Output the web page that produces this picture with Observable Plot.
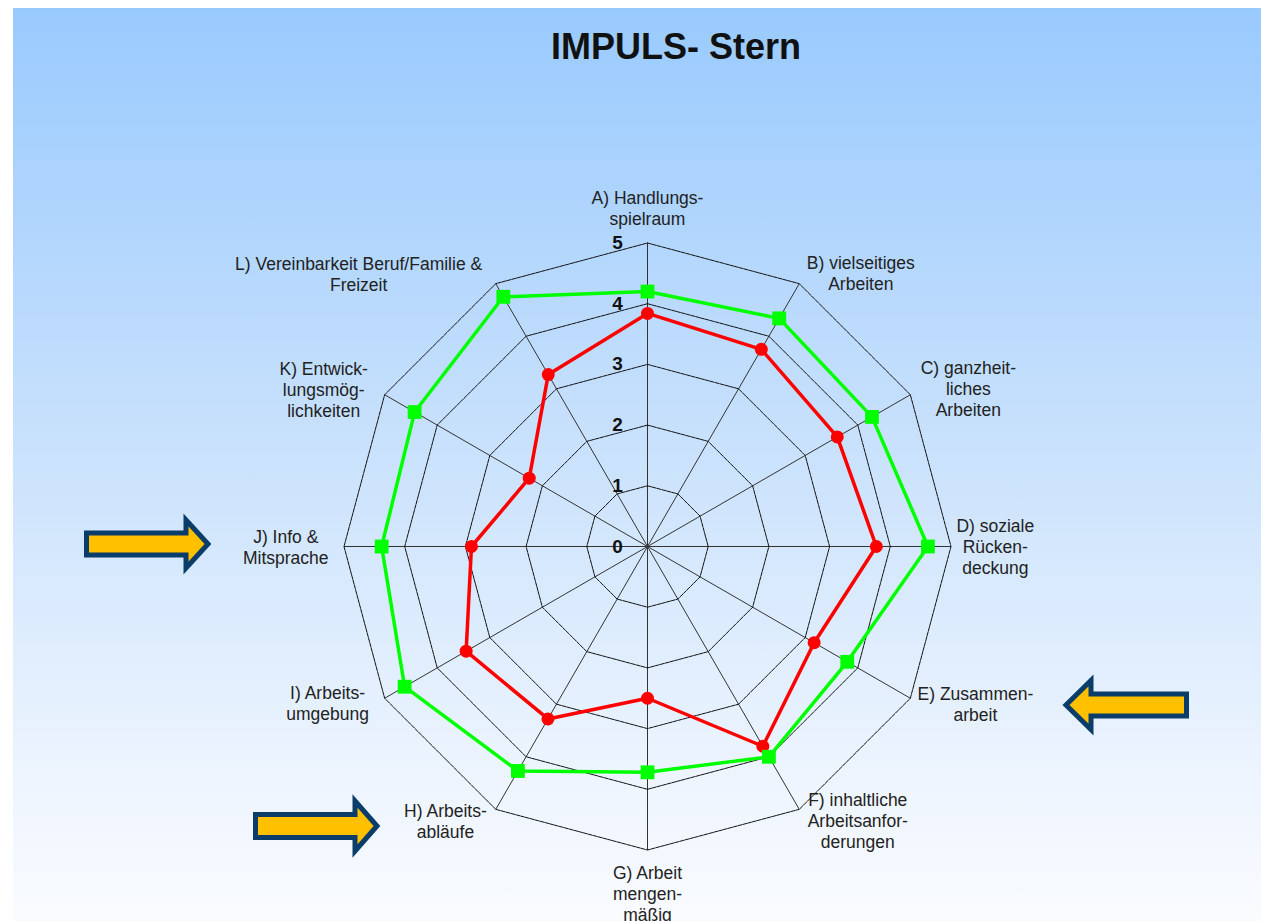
<!DOCTYPE html>
<html>
<head>
<meta charset="utf-8">
<script src="https://cdn.jsdelivr.net/npm/d3@7"></script>
<script src="https://cdn.jsdelivr.net/npm/@observablehq/plot@0.6"></script>
<style>
  html, body { margin: 0; padding: 0; background: #ffffff; }
  #page { position: relative; width: 1261px; height: 921px; overflow: hidden; background: #ffffff; }
  #bg { position: absolute; left: 13px; top: 8px; width: 1248px; height: 913px;
        background: linear-gradient(to bottom, #99cafe 0%, #c6e0fc 45%, #eef5fe 85%, #f9fbff 100%); }
  #title { position: absolute; left: 0; width: 1352px; top: 26px; text-align: center;
           font-family: "Liberation Sans", Arial, sans-serif; font-weight: bold; font-size: 36px; color: #111; }
  #chart { position: absolute; left: 0; top: 0; }
  #arrows { position: absolute; left: 0; top: 0; }
</style>
</head>
<body>
<div id="page">
  <div id="bg"></div>
  <div id="title">IMPULS- Stern</div>
  <div id="chart"></div>
  <svg id="arrows" width="1261" height="921"></svg>
</div>
<script>
// ---- data ----
const categories = [
  "A) Handlungs-\nspielraum",
  "B) vielseitiges\nArbeiten",
  "C) ganzheit-\nliches\nArbeiten",
  "D) soziale\nRücken-\ndeckung",
  "E) Zusammen-\narbeit",
  "F) inhaltliche\nArbeitsanfor-\nderungen",
  "G) Arbeit\nmengen-\nmäßig",
  "H) Arbeits-\nabläufe",
  "I) Arbeits-\numgebung",
  "J) Info &\nMitsprache",
  "K) Entwick-\nlungsmög-\nlichkeiten",
  "L) Vereinbarkeit Beruf/Familie &\nFreizeit"
];
const greenValues = [4.2, 4.34, 4.27, 4.62, 3.8, 4.0, 3.72, 4.27, 4.62, 4.38, 4.43, 4.75];
const redValues   = [3.84, 3.75, 3.61, 3.77, 3.17, 3.8, 2.5, 3.28, 3.45, 2.9, 2.25, 3.27];
const tickLevels  = [0, 1, 2, 3, 4, 5];

// ---- layout constants ----
const W = 1261, H = 921, CX = 647, CY = 546, UNIT = 60.7;
const labelRadius = [5.58, 5.72, 5.89, 5.73, 5.99, 5.69, 5.71, 5.61, 5.87, 5.96, 5.93, 6.55];
const labelAngle  = [0, 37.9, 63.8, 90, 115.6, 142.5, 180, 216.4, 243.9, 270, 295.9, 313.4];

const n = categories.length;
const ang = i => (i * 2 * Math.PI) / n;
const px = (v, i) => v * Math.sin(ang(i));
const py = (v, i) => v * Math.cos(ang(i));
const rad = d => d * Math.PI / 180;

// rings
const rings = [];
for (const lv of tickLevels.filter(d => d > 0)) {
  for (let i = 0; i <= n; i++) rings.push({ level: lv, x: px(lv, i % n), y: py(lv, i % n) });
}
// spokes
const spokes = categories.map((c, i) => ({ x1: 0, y1: 0, x2: px(5, i), y2: py(5, i) }));
// series
const toPts = vals => vals.map((v, i) => ({ x: px(v, i), y: py(v, i) }));
const redPts = toPts(redValues);
const greenPts = toPts(greenValues);
const closed = pts => pts.concat([pts[0]]);
const labels = categories.map((c, i) => ({
  text: c,
  x: labelRadius[i] * Math.sin(rad(labelAngle[i])),
  y: labelRadius[i] * Math.cos(rad(labelAngle[i]))
}));
const ticks = tickLevels.map(l => ({ text: String(l), x: 0, y: l }));

const chart = Plot.plot({
  width: W,
  height: H,
  margin: 0,
  style: { background: "transparent", overflow: "visible" },
  x: { domain: [-CX / UNIT, (W - CX) / UNIT], range: [0, W], axis: null },
  y: { domain: [CY / UNIT, -(H - CY) / UNIT], range: [0, H], axis: null },
  marks: [
    Plot.link(spokes, { x1: "x1", y1: "y1", x2: "x2", y2: "y2", stroke: "#333", strokeWidth: 1 }),
    Plot.line(rings, { x: "x", y: "y", z: "level", stroke: "#111", strokeWidth: 1, strokeDasharray: "4,1", curve: "linear" }),
    Plot.text(ticks, { x: "x", y: "y", text: "text", dx: -30, fontSize: 19, fontWeight: "bold",
      fontFamily: "Liberation Sans, Arial, sans-serif", fill: "#111" }),
    Plot.line(closed(redPts), { x: "x", y: "y", stroke: "#ff0000", strokeWidth: 3.5 }),
    Plot.dot(redPts, { x: "x", y: "y", r: 6.5, fill: "#ff0000", stroke: "none" }),
    Plot.line(closed(greenPts), { x: "x", y: "y", stroke: "#00ff00", strokeWidth: 3.5 }),
    Plot.dot(greenPts, { x: "x", y: "y", r: 7.8, symbol: "square", fill: "#00ff00", stroke: "none" }),
    Plot.text(labels, { x: "x", y: "y", text: "text", fontSize: 17.5, lineHeight: 1.2,
      lineAnchor: "middle", textAnchor: "middle",
      fontFamily: "Liberation Sans, Arial, sans-serif", fill: "#222" })
  ]
});
document.getElementById("chart").appendChild(chart);

// ---- decorative arrows ----
function arrowPath(tip, cy, base, end, bh, hh) {
  return `M${end},${cy - bh} L${base},${cy - bh} L${base},${cy - hh} L${tip},${cy} L${base},${cy + hh} L${base},${cy + bh} L${end},${cy + bh} Z`;
}
const arrowSpecs = [
  [208, 544, 186, 86.5, 11, 24],
  [1066, 705, 1091, 1186.5, 11, 24.5],
  [377, 826, 355, 255.5, 11.5, 25]
];
const svg = d3.select("#arrows");
arrowSpecs.forEach(a => {
  svg.append("path").attr("d", arrowPath(...a))
    .attr("fill", "#ffc000").attr("stroke", "#0b3d6b").attr("stroke-width", 5)
    .attr("stroke-linejoin", "miter");
});
</script>
</body>
</html>
